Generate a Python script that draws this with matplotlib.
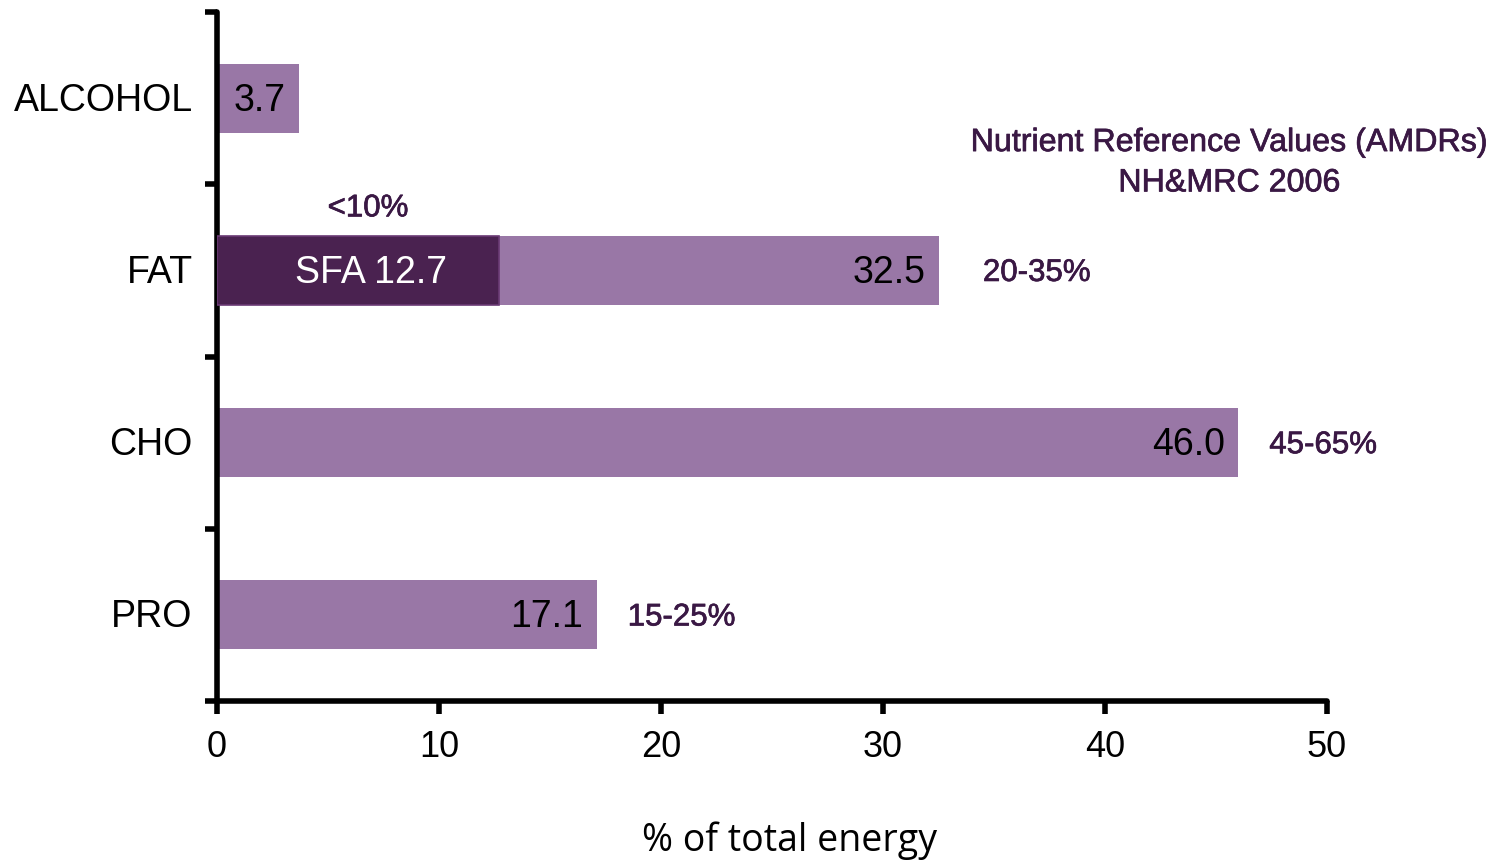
import matplotlib
matplotlib.use("Agg")
import matplotlib.pyplot as plt
import matplotlib.patheffects as pe

# Energy intake by macronutrient (% of total energy)
categories = ["PRO", "CHO", "FAT", "ALCOHOL"]
values = [17.1, 46.0, 32.5, 3.7]
sfa_value = 12.7
ranges = ["15-25%", "45-65%", "20-35%", None]
x_ticks = [0, 10, 20, 30, 40, 50]

light = "#9977A6"
dark = "#4A2250"
note_color = "#3A1844"

plt.rcParams["font.family"] = ["Liberation Sans", "DejaVu Sans"]

fig = plt.figure(figsize=(14.9, 8.6), dpi=100)
ax = fig.add_axes([217 / 1490, 1 - 701 / 860, (1327 - 217) / 1490, (701 - 12) / 860])

heavy = [pe.withStroke(linewidth=0.5, foreground=note_color)]
dy = -0.015  # nudge text slightly below band centre

ypos = list(range(len(categories)))
ax.barh(ypos, values, height=0.4, color=light, zorder=2)
fat_idx = categories.index("FAT")
ax.barh(fat_idx, sfa_value, height=0.4, color=dark, edgecolor="#6A3A74",
        linewidth=1.2, zorder=3)

# value labels inside bar ends
for y, v in zip(ypos, values):
    ax.text(v - 0.6, y + dy, f"{v:.1f}", ha="right", va="center", fontsize=27,
            color="black", zorder=4)
ax.text(sfa_value / 2 + 0.6, fat_idx + dy, f"SFA {sfa_value}", ha="center",
        va="center", fontsize=27, color="white", zorder=4)
ax.text(6.8, fat_idx + 0.36, "<10%", ha="center", va="center", fontsize=22.5,
        color=note_color, zorder=4, path_effects=heavy)

# recommended ranges beside the bars
range_x = {"15-25%": 18.5, "45-65%": 47.4, "20-35%": 34.5}
for y, r in zip(ypos, ranges):
    if r:
        ax.text(range_x[r], y + dy, r, ha="left", va="center", fontsize=22.5,
                color=note_color, path_effects=heavy)

ax.text(45.6, 2.622, "Nutrient Reference Values (AMDRs)\nNH&MRC 2006", ha="center",
        va="center", fontsize=23.2, color=note_color, linespacing=1.45,
        path_effects=heavy)

ax.set_xlim(0, 50)
ax.set_ylim(-0.5, len(categories) - 0.5)
ax.set_xticks(x_ticks)
ax.set_xticklabels([str(t) for t in x_ticks])
ax.set_yticks([-0.5, 0.5, 1.5, 2.5, 3.5])
ax.set_yticklabels([])
for y, c in zip(ypos, categories):
    ax.text(-1.1, y + dy, c, ha="right", va="center", fontsize=27, color="black",
            transform=ax.transData)

ax.tick_params(axis="x", direction="out", length=9, width=4, labelsize=26, pad=12)
ax.tick_params(axis="y", direction="out", length=9, width=4)
for s in ["top", "right"]:
    ax.spines[s].set_visible(False)
for s in ["left", "bottom"]:
    ax.spines[s].set_linewidth(4)
    ax.spines[s].set_capstyle("round")

fig.text(789 / 1490, 1 - 841 / 860, "% of total energy", ha="center", va="center",
         fontsize=27, family=["Open Sans", "DejaVu Sans"])

fig.savefig("out.png", dpi=100)
